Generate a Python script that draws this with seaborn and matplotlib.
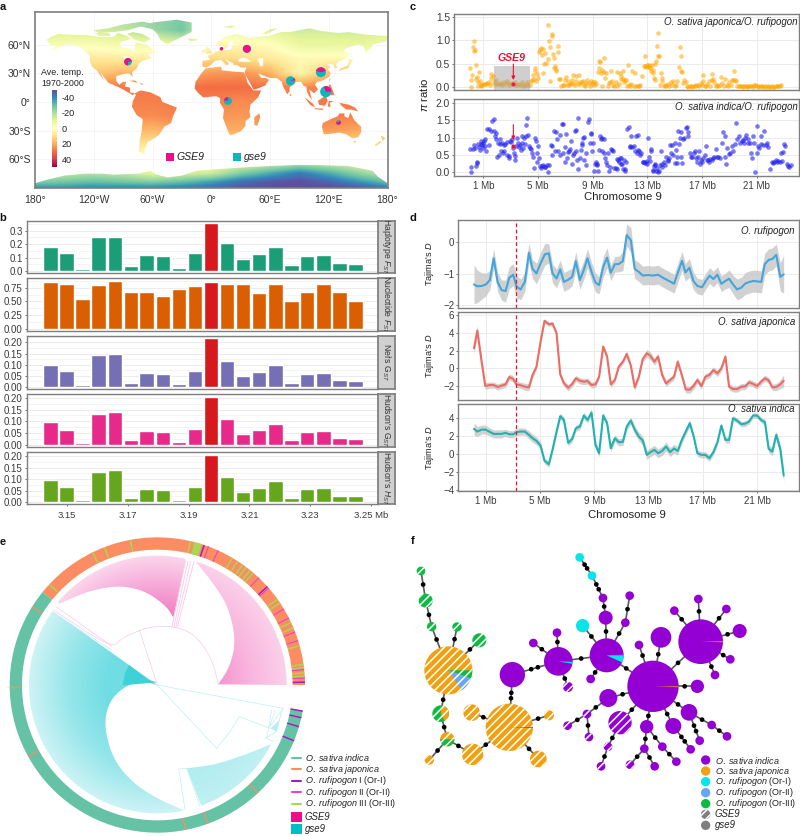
"""
plot.py
Six panel figure: map, windowed statistics, pi ratio, Tajima's D, fan tree, haplotype network.
"""

import numpy as np
import pandas as pd
import matplotlib
matplotlib.use('Agg')
import matplotlib.pyplot as plt
from matplotlib.colors import LinearSegmentedColormap, Normalize
from matplotlib.cm import ScalarMappable
from matplotlib.patches import Polygon, Wedge, Rectangle, Circle
import seaborn as sns

# ---- panel a: map ----
map_lons = [-180, -150, -120, -90, -60, -30, 0, 30, 60, 90, 120, 150, 180]
map_lats = [90, 75, 60, 45, 30, 15, 0, -15, -30, -45, -60, -75, -84, -90]
map_temp = [
    [-18, -18, -18, -20, -24, -26, -14, -14, -16, -16, -16, -16, -16],
    [-14, -13, -13, -16, -22, -28, -8, -8, -12, -14, -14, -14, -14],
    [-4, -3, -3, -5, -6, -10, 3, 2, 0, -8, -8, -9, -6],
    [5, 8, 7, 6, 6, 10, 11, 10, 7, 2, 2, 3, 5],
    [15, 18, 15, 18, 18, 20, 23, 24, 19, 3, 16, 15, 15],
    [28, 28, 28, 28, 28, 29, 30, 30, 29, 26, 27, 27, 27],
    [27, 27, 27, 27, 27, 28, 27, 25, 27, 28, 28, 28, 28],
    [26, 26, 26, 26, 25, 27, 24, 23, 25, 27, 27, 27, 27],
    [19, 19, 19, 19, 18, 21, 20, 20, 22, 22, 23, 21, 19],
    [10, 10, 10, 9, 8, 10, 10, 10, 10, 10, 12, 11, 10],
    [-2, -2, -2, -2, -3, -2, -2, -2, -4, -8, -6, -4, -2],
    [-14, -16, -18, -16, -9, -12, -14, -26, -34, -42, -34, -24, -16],
    [-26, -28, -30, -28, -26, -30, -36, -44, -48, -50, -46, -38, -30],
    [-38, -38, -40, -40, -40, -42, -44, -48, -50, -50, -50, -48, -42],
]
land = {
    'north_america': [(-168, 65), (-164, 68), (-156, 71), (-140, 70), (-128, 70), (-115, 68), (-100, 68), (-95, 72),
                      (-86, 69), (-82, 66), (-94, 62), (-92, 57), (-82, 55), (-79, 52), (-78, 58), (-77, 62), (-70, 61),
                      (-65, 59), (-60, 55), (-56, 52), (-65, 50), (-61, 46), (-70, 43), (-74, 40), (-76, 35), (-81, 31),
                      (-80, 26), (-82, 28), (-84, 30), (-90, 29), (-97, 27), (-97, 22), (-94, 18), (-90, 21), (-87, 21),
                      (-88, 16), (-83, 15), (-83, 10), (-78, 9), (-80, 7), (-85, 10), (-92, 14), (-96, 16), (-105, 20),
                      (-109, 25), (-113, 31), (-110, 23), (-115, 30), (-117, 33), (-122, 37), (-124, 43), (-124, 48),
                      (-130, 54), (-135, 58), (-145, 60), (-152, 59), (-160, 55), (-165, 54), (-158, 58), (-165, 60)],
    'baffin': [(-80, 73), (-70, 71), (-62, 66), (-68, 62), (-78, 65), (-86, 71)],
    'arctic_islands': [(-120, 75), (-105, 77), (-90, 81), (-70, 84), (-62, 82), (-75, 78), (-85, 75), (-100, 73), (-115, 72)],
    'victoria': [(-118, 72), (-105, 72), (-102, 69), (-115, 69)],
    'greenland': [(-73, 79), (-60, 83), (-35, 86), (-20, 83), (-20, 73), (-30, 68), (-42, 62), (-45, 60), (-52, 65),
                  (-55, 71), (-60, 76)],
    'iceland': [(-24, 66), (-14, 66), (-15, 64), (-22, 63.5)],
    'south_america': [(-78, 9), (-72, 12), (-62, 10), (-52, 5), (-50, 0), (-35, -6), (-39, -15), (-41, -22), (-48, -26),
                      (-53, -34), (-58, -38), (-65, -42), (-68, -50), (-68, -55), (-74, -52), (-73, -40), (-71, -30),
                      (-70, -18), (-76, -14), (-81, -5), (-80, 1), (-77, 7)],
    'africa': [(-6, 35), (10, 37), (11, 33), (20, 32), (25, 31.5), (33, 31), (35, 28), (37, 20), (43, 12), (51, 12),
               (48, 5), (40, -3), (39, -10), (40, -16), (35, -20), (35, -25), (30, -31), (20, -35), (18, -33), (15, -25),
               (12, -17), (13, -8), (9, -1), (9, 4), (5, 6), (-5, 5), (-8, 4.5), (-13, 9), (-17, 14), (-16, 21), (-10, 30)],
    'eurasia': [(-9, 37), (-9, 43), (-1, 44), (-4, 48), (3, 51), (8, 54), (8, 57), (11, 55), (12, 54), (20, 54.5), (22, 59),
                (30, 60), (22, 60.5), (22, 65), (18, 62), (17, 57), (13, 55.5), (11, 59), (5, 59), (6, 62), (14, 68), (25, 71),
                (40, 67), (35, 65), (44, 68), (60, 69), (68, 72), (72, 73), (80, 73), (100, 77), (113, 74), (130, 72), (140, 73),
                (160, 70), (180, 69), (180, 65), (178, 63), (165, 60), (163, 56), (157, 51), (156, 58), (150, 60), (140, 57),
                (135, 54), (141, 50), (138, 46), (130, 42), (127, 39), (129, 35.5), (126, 35), (125, 39), (121, 40), (118, 39),
                (122, 37), (119, 34), (122, 30), (120, 26), (114, 22.5), (108, 21), (106, 18), (109, 13), (105, 9), (100, 13),
                (103, 2), (100, 6), (98, 10), (97, 16), (94, 17), (92, 21), (87, 21), (80, 15), (80, 11), (77.5, 8), (73, 17),
                (72, 21), (67, 25), (61, 25), (57, 26), (52, 28), (48, 30), (51, 25), (56, 25), (59, 23), (55, 17), (45, 13),
                (43, 13), (39, 21), (35, 28), (34, 31), (36, 36), (30, 36), (26, 39), (23, 38), (23, 40), (19, 42), (14, 45),
                (18, 40), (16, 38), (10, 44), (4, 43), (0, 39), (-5, 36)],
    'britain': [(-5, 50), (1, 51), (-2, 56), (-5, 58), (-6, 55)],
    'ireland': [(-10, 52), (-6, 52), (-6, 55), (-9, 54.5)],
    'svalbard': [(12, 79), (25, 80), (20, 77)],
    'novaya': [(52, 71), (57, 71), (68, 77), (60, 76)],
    'madagascar': [(44, -16), (49, -12), (50, -16), (47, -25), (44, -24)],
    'sri_lanka': [(80, 9), (82, 7), (80.5, 6)],
    'australia': [(114, -22), (122, -18), (129, -15), (131, -12), (136, -12), (136, -15), (140, -17), (142, -11), (146, -19),
                  (153, -26), (153, -32), (150, -37), (144, -38), (138, -34), (131, -32), (124, -33), (115, -34), (113, -26)],
    'tasmania': [(145, -41), (148, -41), (147, -43.5)],
    'nz_north': [(173, -35), (178, -38), (175, -41)],
    'nz_south': [(172, -41), (174, -42), (168, -46.5), (167, -45)],
    'japan': [(130, 32), (135, 34), (140, 35), (142, 40), (145, 44), (141, 45), (139, 38), (132, 35)],
    'sakhalin': [(142, 54), (143, 50), (143, 46), (142, 49)],
    'taiwan': [(120, 23), (122, 25), (121, 22)],
    'borneo': [(109, 1), (117, 7), (119, 1), (116, -4), (110, -3)],
    'sumatra': [(95, 5), (104, -2), (106, -6), (101, -3)],
    'java': [(105, -6.5), (114, -7), (114, -8.5), (106, -7.5)],
    'sulawesi': [(120, 1), (125, 1), (121, -1), (122, -5), (119, -5)],
    'philippines': [(120, 18), (122, 18), (124, 12), (126, 7), (122, 7), (120, 14)],
    'new_guinea': [(131, -1), (141, -3), (147, -6), (150, -10), (143, -8), (138, -8), (133, -4)],
    'cuba': [(-84, 22), (-75, 20), (-78, 22.5)],
    'hispaniola': [(-74, 19.5), (-69, 19), (-71, 18)],
    'antarctica': [(-180, -90), (-180, -85), (-170, -82), (-150, -77), (-130, -75), (-110, -75), (-100, -76), (-75, -75),
                   (-62, -72), (-58, -75), (-45, -79), (-30, -77), (-15, -72), (10, -70), (40, -68), (60, -67), (85, -66),
                   (110, -66), (140, -67), (165, -72), (170, -78), (180, -85), (180, -90)],
}
inland_seas = {
    'black_sea': [(28, 42), (28, 45), (33, 46), (37, 45), (41, 42), (35, 42)],
    'caspian': [(47, 45), (53, 46), (53, 38), (50, 37), (49, 41)],
    'great_lakes': [(-90, 48), (-84, 47), (-80, 44), (-84, 43), (-87, 42)],
}
pie_sites = [(-85, 42), (10.5, 55.6), (36.4, 55.5), (112, 31), (81, 22), (117, 10.7), (17, 1), (130, -21.5)]
pie_sizes = [3.9, 1.7, 4.1, 5.2, 4.8, 5.8, 4.1, 2.4]
pie_gse9_arcs = [(-360, -90), (0, 360), (0, 360), (15, 165), (5, 35), (0, 110), (90, 170), (-200, 60)]
lon_ticks = [-180, -120, -60, 0, 60, 120, 180]
lon_labels = ['180°', '120°W', '60°W', '0°', '60°E', '120°E', '180°']
lat_ticks = [60, 30, 0, -30, -60]
lat_labels = ['60°N', '30°N', '0°', '30°S', '60°S']

# ---- panel b: windowed statistics ----
window_mb = [3.1445, 3.1498, 3.1551, 3.1604, 3.1657, 3.1710, 3.1762, 3.1815, 3.1868, 3.1921,
             3.1973, 3.2026, 3.2079, 3.2132, 3.2185, 3.2238, 3.2290, 3.2343, 3.2396, 3.2449]
hap_fst = [.178, .132, .018, .25, .255, .037, .118, .112, .022, .135, .36, .212, .09, .13, .177, .043, .115, .12, .058, .053]
nuc_fst = [.845, .82, .55, .79, .865, .68, .665, .605, .72, .785, .86, .81, .81, .65, .82, .51, .67, .81, .67, .5]
nei_gst = [.098, .07, .008, .142, .147, .018, .062, .058, .012, .072, .22, .118, .048, .068, .097, .02, .06, .063, .03, .027]
hud_gst = [.095, .065, .008, .133, .14, .018, .057, .054, .01, .067, .205, .11, .045, .063, .09, .02, .056, .06, .028, .025]
hud_hst = [.095, .065, .008, .133, .14, .018, .057, .054, .01, .067, .205, .11, .045, .063, .09, .02, .056, .06, .028, .025]
gene_window = 3.1973
window_ticks = [3.15, 3.17, 3.19, 3.21, 3.23, 3.25]
window_labels = ['3.15', '3.17', '3.19', '3.21', '3.23', '3.25 Mb']

# ---- panel c: pi ratio (Mb, ratio) ----
japonica_pi = [
    (.02, .40), (.07, 0), (.1, .16), (.2, .25), (.25, .85), (.3, .98), (.35, .78), (.42, .8), (.45, .17), (.5, .47), (.55, .22),
    (.6, .10), (.65, .03), (.7, .33), (.75, .13), (.8, .02), (.85, .05), (.9, .05), (1.0, .06), (1.1, .06), (1.2, .07), (1.3, .08),
    (1.4, .1), (1.5, .05), (1.55, .27), (1.6, .2), (1.7, .23), (1.75, .12), (1.8, .07), (1.9, .15), (2.0, .07), (2.1, .06), (2.2, .07),
    (2.3, .08), (2.4, .05), (2.5, .1), (2.6, .07), (2.7, .13), (2.8, .09), (2.9, .05), (3.0, .06), (3.1, .08), (3.3, .1), (3.4, .05),
    (3.5, .04), (3.6, .07), (3.7, .05), (3.8, .1), (3.9, .03), (4.0, .05), (4.1, .04), (4.2, .1), (4.3, .05), (4.4, .04), (4.5, .12),
    (4.6, .15), (4.65, .25), (4.7, .18), (4.75, .4), (4.8, .35), (4.85, .13), (4.9, .28), (5.0, .2), (5.1, .75), (5.15, .8), (5.2, .83),
    (5.3, .68), (5.35, .3), (5.4, .82), (5.45, .5), (5.55, .72), (5.6, .52), (5.7, .6), (5.75, 1.33), (5.8, .98), (5.85, .85), (5.9, .13),
    (6.0, 1.14), (6.05, 1.08), (6.1, .7), (6.15, .4), (6.2, .63), (6.25, .45), (6.3, .35), (6.35, .38), (6.45, .88), (6.5, .75), (6.55, .18),
    (6.6, .18), (6.7, .03), (6.8, .04), (6.9, .05), (7.0, .14), (7.05, .22), (7.1, .05), (7.2, .13), (7.3, .04), (7.35, .07), (7.45, .08),
    (7.5, .15), (7.55, .06), (7.6, .25), (7.7, .05), (7.75, .12), (7.8, .24), (7.9, .06), (8.0, .25), (8.05, .07), (8.1, .1), (8.2, .1),
    (8.3, .12), (8.4, .05), (8.45, .02), (8.5, .08), (8.6, .16), (8.7, .09), (8.8, .03), (8.85, .12), (8.95, .06), (9.05, .1), (9.1, .04),
    (9.2, .1), (9.25, .06), (9.4, .33), (9.45, .55), (9.5, .4), (9.55, .54), (9.6, .3), (9.65, .03), (9.7, .36), (9.8, .32), (9.85, .63),
    (9.9, .2), (10.0, .3), (10.1, .03), (10.2, .08), (10.3, .1), (10.35, .35), (10.4, .12), (10.5, .05), (10.55, .02), (10.7, .1),
    (10.75, .33), (10.8, .03), (10.9, .06), (11.0, .3), (11.05, .23), (11.1, .18), (11.2, .35), (11.25, .18), (11.3, .1), (11.35, .16),
    (11.45, .16), (11.5, .02), (11.6, .48), (11.65, .05), (11.7, .03), (11.8, .06), (11.9, .35), (12.0, .03), (12.1, .3), (12.2, .02),
    (12.3, .03), (12.4, .03), (12.5, .05), (12.6, .24), (12.75, .44), (12.8, .67), (12.85, .45), (12.9, .42), (13.0, .47), (13.05, .44),
    (13.1, .43), (13.15, .48), (13.2, .4), (13.3, .35), (13.35, .47), (13.4, .3), (13.45, .37), (13.5, .2), (13.55, .15), (13.6, .5),
    (13.65, .55), (13.7, .88), (13.75, .67), (13.8, 1.16), (13.85, .67), (13.9, .05), (14.0, .3), (14.05, .2), (14.1, .13), (14.2, .02),
    (14.3, .04), (14.4, .03), (14.5, .07), (14.6, .03), (14.7, .1), (14.8, .04), (14.9, .13), (15.0, .02), (15.1, .05), (15.2, .12),
    (15.35, .42), (15.4, .85), (15.45, .67), (15.5, .35), (15.55, .33), (15.6, .08), (15.7, .15), (15.8, .1), (15.9, .02), (16.0, .01),
    (16.1, .03), (16.2, .02), (16.3, .01), (16.4, .03), (16.5, .02), (16.6, .04), (16.7, .05), (16.8, .02), (16.9, .08), (17.0, .05),
    (17.05, .12), (17.1, .25), (17.2, .03), (17.3, .02), (17.4, .06), (17.5, .12), (17.6, .03), (17.7, .14), (17.75, .27), (17.8, .18),
    (17.9, .1), (18.0, .03), (18.1, .05), (18.2, .02), (18.3, .04), (18.4, .22), (18.5, .08), (18.6, .03), (18.7, .17), (18.8, .05),
    (18.9, .02), (19.0, .1), (19.1, .05), (19.2, .15), (19.3, .14), (19.35, .34), (19.4, .14), (19.5, .13), (19.6, .03), (19.7, .02),
    (19.8, .03), (19.9, .02), (20.0, .01), (20.1, .02), (20.2, .03), (20.3, .01), (20.4, .02), (20.5, .03), (20.6, .02), (20.7, .01),
    (20.8, .04), (20.9, .05), (21.0, .02), (21.1, .03), (21.2, .01), (21.3, .03), (21.4, .02), (21.5, .01), (21.6, .02), (21.7, .01),
    (21.8, .02), (21.9, .01), (22.0, .01), (22.1, .02), (22.2, 0), (22.3, .01), (22.4, .02), (22.5, .02), (22.6, .03), (22.7, .03), (22.8, .04),
]
indica_pi = [
    (.02, .67), (.07, 0), (.1, .16), (.22, .66), (.32, .79), (.39, .69), (.46, .19), (.52, .26), (.56, .31), (.62, .82), (.7, .72),
    (.75, .63), (.8, .8), (.85, .9), (.9, .78), (.95, .7), (1.0, .85), (1.05, .9), (1.1, .75), (1.15, .97), (1.22, .62), (1.3, 1.24),
    (1.4, .78), (1.45, 1.26), (1.6, 1.18), (1.65, 1.48), (1.75, 1.52), (1.8, 1.2), (1.85, 1.05), (1.9, .95), (1.95, 1.12), (2.0, .44),
    (2.1, .85), (2.15, .5), (2.2, .8), (2.25, .95), (2.3, .62), (2.35, .85), (2.45, .55), (2.5, .78), (2.55, .6), (2.6, .8), (2.7, .5),
    (2.75, .88), (2.85, .4), (2.9, .46), (2.95, .9), (3.05, .88), (3.1, .95), (3.15, .7), (3.25, .55), (3.3, .47), (3.35, .35), (3.4, .75),
    (3.5, 1.0), (3.55, .85), (3.6, .72), (3.7, .78), (3.75, .65), (3.8, 1.05), (3.85, .85), (3.9, .7), (4.0, 1.0), (4.05, .8), (4.1, 1.35),
    (4.15, 1.05), (4.2, 1.55), (4.3, 1.07), (4.35, .75), (4.4, .7), (4.5, .68), (4.55, .55), (4.65, .43), (4.7, .12), (4.8, .98), (4.85, .9),
    (4.9, .3), (4.95, .55), (5.0, .75), (5.05, .42), (5.15, .18), (5.25, .12), (5.3, .17), (5.4, .2), (5.5, .15), (5.55, .14), (5.65, .2),
    (5.75, .02), (5.8, .2), (5.95, .78), (6.0, .5), (6.05, .75), (6.15, 1.18), (6.25, .62), (6.3, 1.17), (6.4, .95), (6.5, .6), (6.6, .5),
    (6.65, 1.08), (6.75, 1.38), (6.8, 1.4), (6.85, .55), (6.95, .72), (7.0, .3), (7.05, 1.1), (7.15, .4), (7.2, .58), (7.3, .6), (7.35, .68),
    (7.45, .9), (7.5, .25), (7.55, .5), (7.65, .55), (7.7, 1.18), (7.75, 1.22), (7.8, .6), (7.85, .35), (7.9, 1.55), (7.95, .1), (8.05, .4),
    (8.15, .65), (8.2, .83), (8.25, .78), (8.3, 1.0), (8.35, 1.02), (8.4, .35), (8.5, .2), (8.55, .55), (8.65, 1.45), (8.7, 1.52), (8.8, .85),
    (8.85, 1.13), (8.9, 1.1), (8.95, .6), (9.0, .85), (9.1, .05), (9.2, .25), (9.25, .3), (9.3, .25), (9.35, .22), (9.4, .05), (9.5, .63),
    (9.55, 1.05), (9.6, .97), (9.65, 1.0), (9.7, .6), (9.8, .95), (9.85, .55), (9.9, .4), (10.0, .3), (10.05, .2), (10.15, .55), (10.2, .05),
    (10.25, .15), (10.35, .68), (10.4, .65), (10.5, .6), (10.6, .13), (10.7, .13), (10.75, .1), (10.8, .38), (10.85, .35), (10.9, .3),
    (11.0, .4), (11.05, .25), (11.1, .4), (11.15, .25), (11.25, .1), (11.3, .35), (11.35, .03), (11.4, .1), (11.45, .3), (11.55, 1.25),
    (11.65, 1.3), (11.7, .73), (11.75, .75), (11.8, 1.05), (11.9, .72), (12.0, .75), (12.1, .62), (12.15, 1.05), (12.25, .55), (12.3, .65),
    (12.35, 1.08), (12.4, .6), (12.5, .5), (12.55, .55), (12.65, .3), (12.7, .3), (12.8, .28), (12.85, .3), (12.95, .25), (13.0, .32),
    (13.05, .98), (13.15, .45), (13.2, .32), (13.25, .68), (13.3, .62), (13.4, .05), (13.45, .08), (13.5, .18), (13.55, .25), (13.6, .2),
    (13.65, .05), (13.7, .12), (13.75, .02), (13.85, .05), (13.9, .2), (14.0, .6), (14.05, .25), (14.1, .15), (14.2, .3), (14.3, .22),
    (14.4, .45), (14.5, .35), (14.55, .33), (14.6, .4), (14.65, .78), (14.75, .55), (14.8, .78), (14.9, .5), (15.0, .27), (15.05, .85),
    (15.1, .65), (15.15, .43), (15.2, .27), (15.25, 1.2), (15.35, .8), (15.4, 1.0), (15.45, .45), (15.5, 1.15), (15.55, .27), (15.6, .95),
    (15.7, .98), (15.8, 1.28), (15.9, 1.3), (15.95, 1.05), (16.0, 1.15), (16.1, .55), (16.2, .43), (16.3, .45), (16.4, .55), (16.5, .6),
    (16.55, .4), (16.65, .3), (16.7, .45), (16.8, .6), (16.85, .25), (16.95, .35), (17.0, .3), (17.1, .4), (17.2, .5), (17.3, .75), (17.35, .35),
    (17.45, .35), (17.55, .3), (17.6, .38), (17.7, .35), (17.8, .4), (17.9, .45), (18.0, .68), (18.1, .45), (18.2, .45), (18.3, .42), (18.45, .85),
    (18.55, 1.15), (18.65, 1.05), (18.7, .45), (18.75, .25), (18.85, .7), (19.0, .52), (19.05, .55), (19.2, .75), (19.3, .62), (19.4, .82),
    (19.5, 1.42), (19.6, .97), (19.7, 1.05), (19.8, .85), (19.9, .9), (20.0, .92), (20.1, .85), (20.15, 1.0), (20.25, 1.08), (20.35, .95),
    (20.4, .85), (20.5, .85), (20.6, .55), (20.65, .4), (20.75, 1.05), (20.8, .85), (20.85, .02), (21.0, .55), (21.05, 1.32), (21.1, .75),
    (21.2, .7), (21.3, 1.05), (21.35, .8), (21.45, .78), (21.55, 1.2), (21.65, .78), (21.75, .85), (21.8, .72), (21.95, .1), (22.1, .3),
    (22.2, .28), (22.3, .3), (22.4, .35), (22.5, .3), (22.6, .32), (22.7, .3), (22.75, .55), (22.85, .32), (22.95, .58), (23.0, .82),
    (23.1, .75), (23.2, .25), (23.3, .18), (23.4, .15), (23.5, .2),
]
chrom_ticks = [1, 5, 9, 13, 17, 21]
chrom_labels = ['1 Mb', '5 Mb', '9 Mb', '13 Mb', '17 Mb', '21 Mb']
gene_mb = 3.2
gene_pi_japonica = 0.055
gene_pi_indica = 0.77
gene_span_mb = (1.76, 4.41)

# ---- panel d: Tajima's D (Mb, D, half ribbon) ----
rufipogon_d = [
    (.12, -1.34, .62), (.36, -1.40, .52), (.68, -1.39, .42), (1.0, -1.34, .36), (1.29, -1.20, .3), (1.57, -.51, .3), (1.86, -1.26, .3),
    (2.15, -1.52, .32), (2.45, -1.55, .35), (2.72, -1.13, .35), (3.01, -1.03, .35), (3.26, -1.41, .35), (3.56, -1.50, .33), (3.87, -1.26, .3),
    (4.17, -.33, .3), (4.44, -.85, .3), (4.73, -.99, .33), (5.03, -.67, .35), (5.35, -.38, .35), (5.64, -.35, .3), (5.91, -.99, .3),
    (6.21, -1.15, .3), (6.48, -.86, .3), (6.75, -1.26, .3), (7.07, -1.19, .3), (7.36, -1.10, .28), (7.63, -.60, .3), (7.93, -1.20, .3),
    (8.22, -.88, .3), (8.49, -.51, .3), (8.79, -.94, .3), (9.08, -1.28, .3), (9.35, -1.36, .28), (9.65, -.78, .32), (9.94, -.49, .32),
    (10.21, -.97, .25), (10.51, -.70, .25), (10.80, -.69, .25), (11.10, -.60, .3), (11.39, .23, .35), (11.69, .07, .4), (11.98, -.85, .3),
    (12.28, -.94, .3), (12.57, -1.06, .3), (12.97, -1.04, .3), (13.33, -1.06, .3), (13.70, -1.03, .3), (14.07, -1.13, .3), (14.51, -1.23, .3),
    (14.88, -1.32, .3), (15.18, -.94, .3), (15.47, -.59, .3), (15.72, -.96, .28), (16.01, -.81, .3), (16.31, -1.23, .28), (16.60, -1.39, .25),
    (16.95, -1.43, .25), (17.22, -1.23, .25), (17.51, -1.06, .25), (17.78, -1.17, .25), (18.08, -1.03, .25), (18.37, -1.32, .25), (18.67, -1.23, .25),
    (18.94, -1.16, .28), (19.23, -1.34, .3), (19.53, -1.50, .33), (19.85, -1.44, .33), (20.14, -1.31, .35), (20.46, -1.26, .35), (20.75, -1.23, .35),
    (21.32, -1.26, .35), (21.57, -.70, .35), (21.86, -.56, .35), (22.13, -.53, .35), (22.42, -.40, .35), (22.72, -1.10, .45), (22.97, -1.02, .6),
]
japonica_d = [
    (.12, 2.26, .7), (.36, 4.26, .55), (.68, .75, .45), (.95, -2.0, .4), (1.29, -1.89, .35), (1.57, -1.89, .35), (1.86, -2.11, .35), (2.15, -1.96, .35),
    (2.45, -1.81, .35), (2.72, -.98, .35), (3.01, -1.21, .35), (3.26, -1.81, .35), (3.56, -1.92, .35), (3.87, -2.08, .4), (4.17, -2.15, .4),
    (4.44, -.75, .35), (4.73, .19, .3), (5.03, 3.02, .3), (5.32, 5.36, .25), (5.64, 4.98, .25), (5.91, 5.06, .25), (6.21, 3.96, .25), (6.48, -.68, .3),
    (6.75, -1.70, .35), (7.07, -2.19, .35), (7.36, -1.77, .35), (7.63, -1.13, .35), (7.93, -1.40, .35), (8.22, -1.51, .35), (8.49, -1.43, .35),
    (8.79, -1.89, .35), (9.08, -1.81, .35), (9.35, -.94, .3), (9.65, 2.45, .3), (9.94, 1.32, .3), (10.21, -1.81, .35), (10.51, -1.32, .3),
    (10.80, .19, .3), (11.10, .75, .3), (11.39, 1.62, .35), (11.69, .30, .35), (11.98, -2.15, .35), (12.28, -.94, .35), (12.57, 1.06, .35),
    (12.87, 1.70, .45), (13.14, 1.40, .45), (13.43, .75, .4), (13.70, 1.32, .4), (14.0, -.75, .4), (14.29, -1.70, .35), (14.59, -1.32, .35),
    (14.88, -.94, .35), (15.15, .75, .35), (15.45, -.75, .35), (15.74, -2.38, .4), (16.04, -2.42, .4), (16.33, -1.96, .4), (16.60, -1.32, .35),
    (16.90, -2.0, .35), (17.19, -.94, .35), (17.49, -.75, .35), (17.78, -.19, .35), (18.08, -.57, .35), (18.37, 0, .35), (18.67, 1.32, .35),
    (18.94, -2.08, .35), (19.23, -2.34, .35), (19.53, -2.34, .35), (19.85, -2.08, .35), (20.14, -2.04, .35), (20.41, -1.58, .35), (20.71, -1.77, .35),
    (21.0, -2.0, .35), (21.3, -1.51, .35), (21.59, -1.13, .35), (21.86, -1.36, .35), (22.13, -2.15, .35), (22.42, -2.11, .4), (22.72, -1.81, .5), (22.97, -1.40, .7),
]
indica_d = [
    (.12, 2.79, .7), (.36, 2.49, .55), (.68, 2.71, .5), (.95, 2.71, .5), (1.29, 2.45, .45), (1.57, 2.23, .45), (1.86, 2.23, .45), (2.15, 2.23, .45),
    (2.45, 2.34, .4), (2.72, 2.19, .4), (3.01, 2.19, .4), (3.26, 2.42, .4), (3.56, 2.49, .4), (3.87, 2.49, .4), (4.17, 2.12, .45), (4.44, 1.75, .45),
    (4.73, 1.45, .45), (5.03, .93, .4), (5.32, -.78, .35), (5.64, -1.15, .35), (5.91, .45, .35), (6.21, 2.49, .35), (6.48, 4.2, .35), (6.75, 3.79, .35),
    (7.07, 1.23, .35), (7.36, 1.67, .35), (7.63, 2.86, .35), (7.93, 3.05, .35), (8.22, 4.28, .35), (8.49, 3.79, .35), (8.79, 4.61, .4), (9.08, 1.0, .45),
    (9.35, .07, .4), (9.65, 4.28, .35), (9.94, 3.42, .35), (10.21, .63, .4), (10.51, 1.75, .4), (10.80, 1.3, .4), (11.10, 1.34, .4), (11.39, 3.05, .4),
    (11.69, 3.72, .4), (11.98, 2.68, .45), (12.28, 1.93, .5), (12.57, 1.49, .5), (12.87, -.11, .5), (13.14, .19, .5), (13.43, .45, .5), (13.70, .07, .5),
    (14.0, .33, .5), (14.29, .82, .5), (14.59, .19, .5), (14.88, .59, .5), (15.15, .33, .45), (15.45, 1.56, .4), (15.74, 2.49, .4), (16.04, 3.42, .4),
    (16.33, 1.93, .35), (16.60, .07, .35), (16.90, -.11, .35), (17.19, -.11, .35), (17.49, -.48, .35), (17.78, .19, .35), (18.08, 1.3, .35), (18.37, 3.16, .35),
    (18.67, 1.56, .35), (18.94, 1.56, .35), (19.23, 3.98, .3), (19.53, 3.72, .3), (19.85, 3.31, .3), (20.14, 3.38, .3), (20.41, 3.61, .3), (20.71, 4.28, .3),
    (21.0, 4.28, .3), (21.3, 3.79, .3), (21.59, 3.53, .35), (21.86, .56, .4), (22.13, .26, .45), (22.42, 2.12, .45), (22.72, .52, .5), (22.97, -2.42, .7),
]
gene_line_mb = 3.24

# ---- panel e: fan tree, all outlines in the panel's own grid ----
tree_hub = (472, 585)
ring_arcs = [(0, 141, '#FC8D62'), (141, 350, '#66C2A5')]
ring_orange = [148, 181, 209, 281, 290, 313]
ring_green = [77, 100.5, 111, 116, 137, 59.5, 57, 54.7, 53, 51, 49.5, 33.8, 35.5, 25, 22.8, 15.4, 8, 4.7, 6.8, 3.4]
ring_magenta = [69.7, 65.7, 46.6, 41, 31, 27, 21, 17.5, 6, 2.7]
ring_purple = [71.5, 41.8, 1.1, -10.2, -12.8, -16.4, -22.2]
ring_thick_green = (72.5, 75.5)
fan_pink_right = [(655, 583), (690, 530), (708, 450), (685, 350), (640, 280), (588, 216)]
fan_pink_left = [(556, 212), (538, 300), (520, 382), (500, 350), (450, 312), (400, 293), (340, 288), (260, 305), (175, 342)]
fan_cyan_hole = [(545, 958), (470, 925), (400, 880), (340, 810), (312, 710), (325, 640), (365, 595), (420, 572), (472, 585)]
fan_cyan_edge = (165, 368)
fan_cyan_small = [(815, 762), (720, 800), (640, 825), (560, 835)]
patch_cyan_dark = [(387, 525), (445, 570), (472, 577), (368, 586), (375, 550)]
strip_pink = [[(516, 410), (556, 213)], [(522, 410), (564, 213)], [(527, 412), (572, 214)], [(532, 412), (582, 214)]]
branch_pink = [[(160, 360), (335, 475), (365, 445), (420, 420), (470, 408), (520, 410), (570, 425), (610, 465), (640, 520), (655, 583)],
               [(418, 420), (472, 585)], [(168, 350), (335, 468)]]
branch_cyan = [[(472, 585), (850, 655)], [(472, 585), (650, 775)], [(650, 775), (690, 725), (718, 680), (810, 715)],
               [(560, 835), (536, 837), (555, 958)], [(560, 835), (600, 948)], [(815, 660), (800, 745), (820, 755)],
               [(825, 660), (808, 712), (850, 655)], [(845, 660), (830, 725), (795, 745)], [(160, 368), (335, 480)]]
cluster_cyan = [(812, 715), (838, 690), (845, 668), (830, 725)]
tree_labels = ['$\\mathit{O.\\ sativa\\ indica}$', '$\\mathit{O.\\ sativa\\ japonica}$', '$\\mathit{O.\\ rufipogon}$ I (Or-I)',
               '$\\mathit{O.\\ rufipogon}$ II (Or-II)', '$\\mathit{O.\\ rufipogon}$ III (Or-III)']
tree_colors = ['#66C2A5', '#FC8D62', '#A21CC0', '#F03FC8', '#A6D854']
tree_rows = [803, 837, 872, 907, 941]

# ---- panel f: haplotype network ----
node_x = [63, 77, 95, 171, 238, 145, 122, 142, 88, 218, 215, 328, 447, 415, 337, 475, 400, 471, 504, 620, 572, 548, 617, 609, 576, 539,
          689, 676, 759, 717, 783, 902, 823, 895, 979, 1019, 991, 945, 892, 867, 820, 740, 625, 660, 561, 503, 567, 624, 603, 690, 733, 764,
          787, 829, 872, 899, 935, 981]
node_y = [243, 332, 410, 411, 451, 541, 671, 748, 810, 793, 668, 712, 676, 807, 554, 514, 459, 428, 591, 496, 567, 407, 383, 324, 257, 202,
          317, 398, 589, 465, 442, 455, 362, 327, 357, 423, 508, 555, 589, 667, 708, 710, 624, 698, 672, 707, 741, 770, 829, 824, 776, 829,
          770, 815, 778, 752, 705, 739]
node_r = [13, 21, 14, 14, 21, 72, 25, 21, 14, 32, 25, 71, 15, 25, 38, 43, 13, 13, 15, 51, 13, 20, 21, 13, 13, 13,
          13, 13, 77, 13, 31, 67, 13, 13, 13, 21, 13, 13, 20, 25, 24, 20, 27, 35, 13, 13, 13, 13, 13, 13, 13, 13,
          13, 13, 13, 13, 13, 13]
node_group = ['G'] * 5 + ['J', 'G', 'J'] + ['J'] * 6 + ['I'] * 44
node_group[21] = 'C'
node_group[24] = 'C'
node_group[25] = 'C'
node_striped = [0, 1, 2, 3, 4, 5, 6, 7, 8, 9, 10, 11, 12, 13, 18, 43, 44, 45, 46, 47, 48, 49]
# (node, start angle, end angle, group, striped), angles as seen on screen
node_slices = [(5, -20, 0, 'G', True), (5, -55, -20, 'B', True), (6, -60, 80, 'J', True), (7, 0, 180, 'J', True),
               (7, 180, 360, 'G', True), (11, -1, 1, 'G', False), (11, 0, 1, 'I', False), (15, -10, -2, 'C', False),
               (19, -25, 0, 'C', False), (19, 0, 2, 'B', False), (28, -2, 0, 'J', False), (31, -1.5, 1, 'J', False)]
# (node, node, dots on the link)
links = [(0, 1, 1), (1, 2, 1), (2, 5, 1), (3, 5, 1), (4, 5, 1), (5, 6, 1), (6, 7, 1), (7, 8, 1), (7, 9, 1), (9, 11, 1), (10, 11, 1), (11, 14, 2), (11, 12, 1),
         (11, 13, 1), (14, 15, 2), (15, 16, 1), (15, 17, 1), (15, 18, 1), (15, 19, 1), (19, 20, 1), (19, 21, 1), (19, 22, 1), (22, 23, 1), (23, 24, 2), (24, 25, 2),
         (19, 27, 1), (27, 26, 1), (19, 28, 1), (28, 29, 1), (28, 30, 1), (28, 31, 1), (31, 32, 1), (31, 33, 1), (31, 34, 1), (31, 35, 1), (31, 36, 1), (31, 37, 1),
         (28, 38, 1), (28, 39, 1), (39, 56, 1), (56, 57, 1), (39, 55, 2), (28, 40, 1), (40, 54, 2), (28, 41, 1), (41, 50, 1), (50, 49, 1), (50, 51, 1), (41, 52, 1),
         (52, 53, 1), (28, 43, 1), (28, 42, 1), (42, 44, 1), (44, 45, 1), (44, 46, 1), (43, 47, 1), (47, 48, 1)]
net_labels = ['$\\mathit{O.\\ sativa\\ indica}$', '$\\mathit{O.\\ sativa\\ japonica}$', '$\\mathit{O.\\ rufipogon}$ (Or-I)',
              '$\\mathit{O.\\ rufipogon}$ (Or-II)', '$\\mathit{O.\\ rufipogon}$ (Or-III)']
net_keys = ['I', 'J', 'C', 'B', 'G']
net_rows = [810, 843, 875, 908, 941]
net_colors = {'I': '#9400D3', 'J': '#F0A010', 'C': '#08E4EA', 'B': '#6AA5F5', 'G': '#0DBB40'}

GREY_SPINE = '#7f7f7f'
TICK_GREY = '#3a3a3a'
PINK = '#EB0F8C'
TEAL = '#10B5BC'
FONT = 'Liberation Sans'
LEGEND_SIZE = 6.5

sns.set_theme(style='whitegrid')
plt.rcParams['font.family'] = [FONT, 'DejaVu Sans']
plt.rcParams['mathtext.fontset'] = 'custom'
plt.rcParams['mathtext.rm'] = FONT
plt.rcParams['mathtext.it'] = FONT + ':italic'
plt.rcParams['hatch.linewidth'] = 1.1
plt.rcParams['axes.unicode_minus'] = True

fig = plt.figure(figsize=(8, 8.36), dpi=100, facecolor='white')


def px_axes(left, top, right, bottom):
    """Axes placed by figure pixels."""
    return fig.add_axes([left / 800, 1 - bottom / 836, (right - left) / 800, (bottom - top) / 836])


def style_panel(ax, bottom=False):
    ax.set_facecolor('white')
    ax.grid(True, color='#ebebeb', lw=0.7)
    ax.set_axisbelow(True)
    for spine in ax.spines.values():
        spine.set_color(GREY_SPINE)
        spine.set_linewidth(1.0)
    ax.tick_params(axis='y', labelsize=7.0, length=1.5, width=0.5, color=TICK_GREY, labelcolor=TICK_GREY, pad=1.5, left=True)
    ax.tick_params(axis='x', labelsize=7.0, length=1.5, width=0.5, color=TICK_GREY, labelcolor=TICK_GREY, pad=2,
                   bottom=bottom, labelbottom=bottom)
    ax.set_xlabel('')
    ax.set_ylabel('')


for letter, lx, ly in [('a', 3, 7), ('b', 3, 218), ('c', 413, 7), ('d', 413, 218), ('e', 3, 542), ('f', 413, 541)]:
    fig.text(lx / 800, 1 - ly / 836, letter, fontsize=8, fontweight='bold', color='#111111', va='center', ha='center')

# Panel a
ax_map = px_axes(35, 12, 387.5, 188)
style_panel(ax_map, bottom=True)
ax_map.grid(True, color='#f1f1f1', lw=0.5)
lon_fine = np.linspace(-180, 180, 361)
lat_fine = np.linspace(90, -90, 181)
temp_rows = np.array([np.interp(lon_fine, map_lons, row) for row in map_temp])
temp_grid = np.array([np.interp(-lat_fine, -np.array(map_lats), temp_rows[:, j]) for j in range(len(lon_fine))]).T
for name, outline in land.items():
    shape = Polygon(outline, closed=True, transform=ax_map.transData, facecolor='none', edgecolor='none')
    ax_map.add_patch(shape)
    image = ax_map.imshow(temp_grid, extent=(-180, 180, -90, 90), cmap='Spectral_r', vmin=-50, vmax=50,
                          aspect='auto', interpolation='bilinear', zorder=2)
    image.set_clip_path(shape)
for name, outline in inland_seas.items():
    ax_map.add_patch(Polygon(outline, closed=True, facecolor='white', edgecolor='none', zorder=3))
for (lon, lat), size, (arc_start, arc_end) in zip(pie_sites, pie_sizes, pie_gse9_arcs):
    ax_map.add_patch(Circle((lon, lat), size, facecolor=TEAL, edgecolor='none', zorder=4))
    ax_map.add_patch(Wedge((lon, lat), size, arc_start, arc_end, facecolor=PINK, edgecolor='none', zorder=5))
ax_map.set_xlim(-180, 180)
ax_map.set_ylim(-90, 94)
ax_map.set_xticks(lon_ticks, lon_labels)
ax_map.set_yticks(lat_ticks, lat_labels)
ax_map.tick_params(axis='both', labelsize=7.5, pad=3, length=0, labelcolor='#333333')
ax_map.tick_params(axis='x', pad=5)
for spine in ax_map.spines.values():
    spine.set_linewidth(1.2)
ax_map.add_patch(Rectangle((-46.5, -62), 8, 8.3, facecolor=PINK, edgecolor='none', zorder=6))
ax_map.text(-35, -58, 'GSE9', style='italic', fontsize=7.6, va='center', color='#222222', zorder=6)
ax_map.add_patch(Rectangle((22, -62), 8, 8.3, facecolor=TEAL, edgecolor='none', zorder=6))
ax_map.text(33, -58, 'gse9', style='italic', fontsize=7.6, va='center', color='#222222', zorder=6)
ax_map.text(-152, 25, 'Ave. temp.\n1970-2000', fontsize=6.4, color='#222222', ha='center', va='center', linespacing=1.25, zorder=6)

ax_bar = px_axes(51.5, 89.5, 57.5, 167)
fig.colorbar(ScalarMappable(norm=Normalize(-50, 50), cmap='Spectral'), cax=ax_bar, ticks=[40, 20, 0, -20, -40])
ax_bar.set_yticklabels(['-40', '-20', '0', '20', '40'])
ax_bar.tick_params(labelsize=6.6, length=0, pad=3, labelcolor='#222222')
ax_bar.grid(False)
for spine in ax_bar.spines.values():
    spine.set_visible(False)

# Panel b
stat_panels = [
    (hap_fst, '#1B9E77', 'Haplotype $\\mathit{F}_{ST}$', (220.7, 272.7), (-0.012, 0.375), [0, .1, .2, .3], '%.1f'),
    (nuc_fst, '#D95F02', 'Nucleotide $\\mathit{F}_{ST}$', (278.3, 330.7), (-0.03, 0.92), [0, .25, .5, .75], '%.2f'),
    (nei_gst, '#7570B3', "Nei's G$_{ST}$", (336.3, 388.7), (-0.0076, 0.2275), [0, .05, .1, .15, .2], '%.2f'),
    (hud_gst, '#E7298A', "Hudson's G$_{ST}$", (394.3, 446.7), (-0.0086, 0.2157), [0, .05, .1, .15, .2], '%.2f'),
    (hud_hst, '#66A61E', "Hudson's $\\mathit{H}_{ST}$", (452.3, 504.3), (-0.0095, 0.217), [0, .05, .1, .15, .2], '%.2f'),
]
for i, (values, color, strip, (top, bottom), ylim, yticks, fmt) in enumerate(stat_panels):
    ax = px_axes(27, top, 378, bottom)
    frame = pd.DataFrame({'pos': window_mb, 'value': values})
    frame['hit'] = frame['pos'] == gene_window
    sns.barplot(data=frame, x='pos', y='value', hue='hit', palette={False: color, True: '#D7181C'}, native_scale=True,
                dodge=False, width=0.92, legend=False, ax=ax, saturation=1)
    style_panel(ax, bottom=i == len(stat_panels) - 1)
    ax.grid(False, axis='x')
    ax.set_xlim(3.1368, 3.2523)
    ax.set_ylim(*ylim)
    ax.set_yticks(yticks, [fmt % t for t in yticks])
    minor = [(a + b) / 2 for a, b in zip(yticks[:-1], yticks[1:])]
    ax.set_yticks(minor + [yticks[-1] + (yticks[1] - yticks[0]) / 2], minor=True)
    ax.set_ylim(*ylim)
    ax.grid(True, axis='y', which='minor', color='#f0f0f0', lw=0.5)
    ax.tick_params(axis='y', which='minor', length=0)
    ax.set_xticks(window_ticks, window_labels)
    ax.tick_params(axis='x', pad=3, labelsize=6.8)
    strip_ax = px_axes(378, top, 395, bottom)
    strip_ax.set_facecolor('#d0d0d0')
    strip_ax.set_xticks([])
    strip_ax.set_yticks([])
    strip_ax.grid(False)
    for spine in strip_ax.spines.values():
        spine.set_color(GREY_SPINE)
    strip_ax.text(0.5, 0.5, strip, rotation=-90, ha='center', va='center', fontsize=6.2, color='#333333',
                  transform=strip_ax.transAxes, clip_on=True)

# Panel c
ax_up = px_axes(454.3, 14, 799, 90)
ax_down = px_axes(454.3, 99.3, 799, 176)
pi_ratio = pd.DataFrame(japonica_pi, columns=['mb', 'ratio'])
sns.scatterplot(data=pi_ratio, x='mb', y='ratio', color='#FFA500', alpha=0.55, s=11, linewidth=0, ax=ax_up)
pi_ratio = pd.DataFrame(indica_pi, columns=['mb', 'ratio'])
sns.scatterplot(data=pi_ratio, x='mb', y='ratio', color='#2020F0', alpha=0.6, s=11, linewidth=0, ax=ax_down)
for ax, ylim, yticks, note in [(ax_up, (-.064, 1.56), [0, .5, 1, 1.5], 'O. sativa japonica/O. rufipogon'),
                               (ax_down, (-.106, 2.1), [0, .5, 1, 1.5, 2], 'O. sativa indica/O. rufipogon')]:
    style_panel(ax, bottom=ax is ax_down)
    ax.set_xlim(-1.12, 24.1)
    ax.set_ylim(*ylim)
    ax.set_xticks(chrom_ticks, chrom_labels)
    ax.set_yticks(yticks, ['%.1f' % t for t in yticks])
    ax.tick_params(axis='y', labelsize=7.4)
    ax.text(0.995, 0.9, note, style='italic', fontsize=7.0, color='#222222', ha='right', va='center', transform=ax.transAxes)
ax_up.add_patch(Rectangle((gene_span_mb[0], -.064), gene_span_mb[1] - gene_span_mb[0], .521, facecolor='#a0a0a0', alpha=0.5, edgecolor='none', zorder=3))
ax_up.plot([gene_mb], [gene_pi_japonica], 'o', color='#E8204A', ms=3, mew=0, zorder=5)
ax_up.annotate('', xy=(gene_mb, .15), xytext=(gene_mb, .49), arrowprops=dict(arrowstyle='-|>', color='#EE1133', lw=0.8, mutation_scale=5, shrinkA=0, shrinkB=0), zorder=6)
ax_up.text(3.07, .61, 'GSE9', style='italic', fontweight='bold', color='#EE1133', fontsize=7.6, ha='center', va='center')
ax_down.plot([gene_mb], [gene_pi_indica], 'o', color='#EE1133', ms=3, mew=0, zorder=5)
ax_down.annotate('', xy=(gene_mb, .93), xytext=(gene_mb, 1.37), arrowprops=dict(arrowstyle='-|>', color='#EE1133', lw=0.8, mutation_scale=5, shrinkA=0, shrinkB=0), zorder=6)
fig.text(424.5 / 800, 1 - 95 / 836, '$\\mathit{\\pi}$ ratio', rotation=90, fontsize=8.2, color='#222222', ha='center', va='center')
fig.text(623 / 800, 1 - 197 / 836, 'Chromosome 9', fontsize=8.2, color='#222222', ha='center', va='center')

# Panel d
taj_panels = [
    (rufipogon_d, '#41A6DD', 'O. rufipogon', (220, 308.3), (-2.1, .71), [-2, -1, 0]),
    (japonica_d, '#EE6B63', 'O. sativa japonica', (311.7, 400), (-3.58, 6.4), [-2, 0, 2, 4, 6]),
    (indica_d, '#1FB2B2', 'O. sativa indica', (403.7, 491.5), (-4.2, 5.6), [-4, -2, 0, 2, 4]),
]
for i, (rows, color, note, (top, bottom), ylim, yticks) in enumerate(taj_panels):
    ax = px_axes(458.3, top, 799, bottom)
    track = pd.DataFrame(rows, columns=['mb', 'd', 'band'])
    ax.fill_between(track['mb'], track['d'] - track['band'], track['d'] + track['band'], color='#c9c9c9', alpha=0.85, lw=0)
    sns.lineplot(data=track, x='mb', y='d', color=color, lw=1.5, errorbar=None, sort=False, ax=ax)
    style_panel(ax, bottom=i == 2)
    ax.axvline(gene_line_mb, color='#EE1133', lw=0.9, ls=(0, (3, 2)), zorder=5)
    ax.set_xlim(-1.04, 24.1)
    ax.set_ylim(*ylim)
    ax.set_xticks(chrom_ticks, chrom_labels)
    ax.set_yticks(yticks)
    ax.text(0.988, 0.88 if i < 2 else 0.935, note, style='italic', fontsize=7.0, color='#222222', ha='right', va='center', transform=ax.transAxes)
    fig.text(430 / 800, 1 - (top + bottom) / 2 / 836, "Tajima's $\\mathit{D}$", rotation=90, fontsize=6.6, color='#222222', ha='center', va='center')
fig.text(627 / 800, 1 - 515 / 836, 'Chromosome 9', fontsize=8.2, color='#222222', ha='center', va='center')


def arc_points(start, end, radius):
    """Points along a circle round the hub, angles counted on screen."""
    angles = np.radians(np.linspace(start, end, 80))
    return list(zip(tree_hub[0] + radius * np.cos(angles), tree_hub[1] - radius * np.sin(angles)))


def smooth(points, rounds=3):
    """Corner cutting so a hand read outline runs as a curve; the ends stay put."""
    line = np.array(points, dtype=float)
    for _ in range(rounds):
        inner = np.empty((2 * (len(line) - 1), 2))
        inner[0::2] = 0.75 * line[:-1] + 0.25 * line[1:]
        inner[1::2] = 0.25 * line[:-1] + 0.75 * line[1:]
        line = np.vstack([line[:1], inner, line[-1:]])
    return [tuple(p) for p in line]


def shaded_fan(ax, outline, colors, inner, outer, zorder=2):
    """Fill a polygon with a colour ramp running out from the hub."""
    ramp = LinearSegmentedColormap.from_list('fan', colors)
    shape = Polygon(outline, closed=True, transform=ax.transData, facecolor='none', edgecolor='none')
    ax.add_patch(shape)
    xs, ys = np.meshgrid(np.arange(0, 1200, 2), np.arange(0, 1038, 2))
    image = ax.imshow(np.hypot(xs - tree_hub[0], ys - tree_hub[1]), extent=(0, 1200, 1038, 0), cmap=ramp, vmin=inner, vmax=outer,
                      interpolation='bilinear', zorder=zorder, aspect='equal')
    image.set_clip_path(shape)


# Panel e, drawn on the crop grid of 3 units per pixel
ax_tree = px_axes(0, 490, 400, 836)
for start, end, color in ring_arcs:
    ax_tree.add_patch(Wedge(tree_hub, 443, -end, -start, width=37, facecolor=color, edgecolor='none', zorder=2))
for angles, color, span in [(ring_orange, '#FC8D62', .25), (ring_green, '#A6D854', .3), (ring_magenta, '#F03FC8', .22), (ring_purple, '#A21CC0', .3)]:
    for angle in angles:
        ax_tree.add_patch(Wedge(tree_hub, 443, -angle - span, -angle + span, width=37, facecolor=color, edgecolor='none', zorder=3))
ax_tree.add_patch(Wedge(tree_hub, 443, -ring_thick_green[1], -ring_thick_green[0], width=37, facecolor='#A6D854', edgecolor='none', zorder=3))
shaded_fan(ax_tree, smooth(fan_pink_right) + arc_points(72, 0, 388), ['#F391CC', '#F9B5DE', '#FBD0EA'], 170, 388)
shaded_fan(ax_tree, fan_pink_left[:3] + smooth(fan_pink_left[2:]) + arc_points(140, 77.5, 388), ['#F07CC2', '#F6A8D8', '#FBD5EC'], 210, 388)
shaded_fan(ax_tree, smooth(fan_cyan_hole) + [fan_cyan_edge] + arc_points(145, 282, 385), ['#6FDDE3', '#96E6EA', '#CDF3F5'], 150, 385)
shaded_fan(ax_tree, smooth(fan_cyan_small) + arc_points(-70, -27, 385), ['#A8EAEE', '#C0F0F2'], 200, 385)
ax_tree.add_patch(Polygon(patch_cyan_dark, closed=True, facecolor='#3FD0D8', edgecolor='none', zorder=3))
ax_tree.add_patch(Polygon(cluster_cyan, closed=True, facecolor='#B8EEF1', edgecolor='none', zorder=3))
for strip in strip_pink:
    ax_tree.plot(*zip(*strip), color='#F9C8E6', lw=0.6, zorder=3)
for branch in branch_pink:
    ax_tree.plot(*zip(*smooth(branch, 2)), color='#FAC8E8', lw=0.5, zorder=3)
for branch in branch_cyan:
    ax_tree.plot(*zip(*branch), color='#BDF0F3', lw=0.5, zorder=3)
for row_y, label, color in zip(tree_rows, tree_labels, tree_colors):
    ax_tree.plot([875, 904], [row_y, row_y], color=color, lw=1.5, zorder=4)
    ax_tree.text(914, row_y, label, fontsize=LEGEND_SIZE, color='#222222', va='center', zorder=4)
for row_y, color, label in [(982, '#EB0F8C', 'GSE9'), (1017, '#00BFC4', 'gse9')]:
    ax_tree.add_patch(Rectangle((874, row_y - 16), 31, 31, facecolor=color, edgecolor='none', zorder=4))
    ax_tree.text(915, row_y, label, style='italic', fontsize=LEGEND_SIZE + .4, color='#222222', va='center', zorder=4)
ax_tree.set_xlim(0, 1200)
ax_tree.set_ylim(1038, 0)
ax_tree.axis('off')
ax_tree.patch.set_alpha(0)

# Panel f, same grid as panel e
ax_net = px_axes(400, 490, 800, 836)
for first, second, dots in links:
    ends_x = [node_x[first], node_x[second]]
    ends_y = [node_y[first], node_y[second]]
    ax_net.plot(ends_x, ends_y, color='#595959', lw=1.2, zorder=1)
    length = np.hypot(ends_x[1] - ends_x[0], ends_y[1] - ends_y[0])
    gap = length - node_r[first] - node_r[second]
    for step in range(dots):
        along = (node_r[first] + gap * (step + 1) / (dots + 1)) / length
        ax_net.add_patch(Circle((ends_x[0] + along * (ends_x[1] - ends_x[0]), ends_y[0] + along * (ends_y[1] - ends_y[0])), 7,
                                facecolor='black', edgecolor='none', zorder=2))
for index, (x, y, r, group) in enumerate(zip(node_x, node_y, node_r, node_group)):
    striped = index in node_striped
    ax_net.add_patch(Circle((x, y), r, facecolor=net_colors[group], edgecolor='white' if striped else 'none',
                            hatch='////' if striped else None, lw=0, zorder=3))
for index, start, end, group, striped in node_slices:
    # the y axis runs down, so screen angles change sign here
    ax_net.add_patch(Wedge((node_x[index], node_y[index]), node_r[index], -end, -start, facecolor=net_colors[group],
                           edgecolor='white' if striped else 'none', hatch='////' if striped else None, lw=0, zorder=4))
for row_y, key, label in zip(net_rows, net_keys, net_labels):
    ax_net.add_patch(Circle((917, row_y), 14, facecolor=net_colors[key], edgecolor='none', zorder=5))
    ax_net.text(945, row_y, label, fontsize=LEGEND_SIZE, color='#222222', va='center', zorder=5)
ax_net.add_patch(Circle((917, 973), 14, facecolor='#7f7f7f', edgecolor='white', hatch='////', lw=0, zorder=5))
ax_net.text(945, 973, 'GSE9', style='italic', fontsize=LEGEND_SIZE + .4, color='#222222', va='center', zorder=5)
ax_net.add_patch(Circle((917, 1006), 14, facecolor='#7f7f7f', edgecolor='none', zorder=5))
ax_net.text(945, 1006, 'gse9', style='italic', fontsize=LEGEND_SIZE + .4, color='#222222', va='center', zorder=5)
ax_net.set_xlim(0, 1200)
ax_net.set_ylim(1038, 0)
ax_net.set_aspect('equal')
ax_net.axis('off')
ax_net.patch.set_alpha(0)

fig.savefig('out.png', dpi=100, facecolor='white')
